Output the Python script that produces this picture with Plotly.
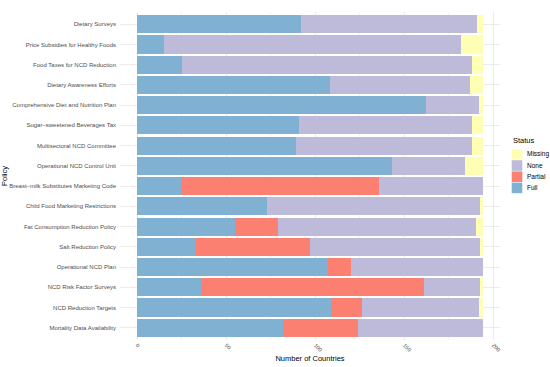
import plotly.graph_objects as go

policies = [
    "Dietary Surveys",
    "Price Subsidies for Healthy Foods",
    "Food Taxes for NCD Reduction",
    "Dietary Awareness Efforts",
    "Comprehensive Diet and Nutrition Plan",
    "Sugar\u2013sweetened Beverages Tax",
    "Multisectoral NCD Committee",
    "Operational NCD Control Unit",
    "Breast\u2013milk Substitutes Marketing Code",
    "Child Food Marketing Restrictions",
    "Fat Consumption Reduction Policy",
    "Salt Reduction Policy",
    "Operational NCD Plan",
    "NCD Risk Factor Surveys",
    "NCD Reduction Targets",
    "Mortality Data Availability",
]
full =    [92, 15, 25, 108, 162, 91, 89, 143, 25, 73, 55, 33, 107, 36, 109, 82]
partial = [0, 0, 0, 0, 0, 0, 0, 0, 111, 0, 24, 64, 13, 125, 17, 42]
none =    [99, 167, 163, 79, 30, 97, 99, 41, 58, 120, 111, 96, 74, 32, 66, 70]
missing = [3, 12, 6, 7, 2, 6, 6, 10, 0, 1, 4, 1, 0, 1, 2, 0]

x_ticks = [0, 50, 100, 150, 200]

series = [
    ("Full", full, "#80B1D3"),
    ("Partial", partial, "#FB8072"),
    ("None", none, "#BEBADA"),
    ("Missing", missing, "#FFFFB3"),
]

W, H = 550, 367
ML, MR, MT, MB = 120, 50, 12, 27
PW, PH = W - ML - MR, H - MT - MB

def px_x(px):
    return (px - ML) / PW

def px_y(py):
    return (H - MB - py) / PH

fig = go.Figure()
for name, vals, color in series:
    fig.add_trace(go.Bar(
        y=policies, x=vals, name=name, orientation="h",
        marker=dict(color=color, line=dict(width=0)),
        showlegend=False,
    ))

# manual ggplot-style legend (Missing on top, Full at bottom)
font_family = "Liberation Sans, Arial, sans-serif"
shapes, annotations = [], []
key_left, key_right = 511.7, 522.3
key_top0, key_h, key_step = 149.0, 10.6, 11.2
for i, (name, _, color) in enumerate(series[::-1]):
    top = key_top0 + i * key_step
    shapes.append(dict(
        type="rect", xref="paper", yref="paper",
        x0=px_x(key_left), x1=px_x(key_right),
        y0=px_y(top + key_h), y1=px_y(top),
        fillcolor=color, line=dict(width=0), layer="above",
    ))
    annotations.append(dict(
        text=name, xref="paper", yref="paper",
        x=px_x(525), y=px_y(top + key_h / 2),
        xanchor="left", yanchor="middle", showarrow=False,
        font=dict(size=6.5, color="#000000", family=font_family),
    ))
annotations.append(dict(
    text="Status", xref="paper", yref="paper",
    x=px_x(510.5), y=px_y(140.7),
    xanchor="left", yanchor="middle", showarrow=False,
    font=dict(size=7.5, color="#000000", family=font_family),
))

fig.update_layout(
    barmode="stack",
    bargap=0.1,
    width=W, height=H,
    margin=dict(l=ML, r=MR, t=MT, b=MB, autoexpand=False),
    plot_bgcolor="white", paper_bgcolor="white",
    font=dict(family=font_family, size=6, color="#4D4D4D"),
    showlegend=False,
    shapes=shapes,
    annotations=annotations,
    xaxis=dict(
        range=[-9.7, 203.7],
        tickvals=x_ticks,
        tickangle=45,
        showgrid=True, gridcolor="#EBEBEB", gridwidth=1,
        minor=dict(showgrid=True, dtick=25, tick0=25, gridcolor="#F3F3F3", gridwidth=0.6),
        zeroline=False, showline=False, ticks="",
        tickfont=dict(size=5.5, color="#4D4D4D"),
        title=dict(text="Number of Countries", font=dict(size=7.5, color="#000000"), standoff=3),
        automargin=False,
    ),
    yaxis=dict(
        categoryorder="array", categoryarray=policies[::-1],
        range=[-0.6, 15.6],
        showgrid=True, gridcolor="#EBEBEB", gridwidth=1,
        zeroline=False, showline=False, ticks="",
        ticklabelstandoff=3,
        tickfont=dict(size=6, color="#4D4D4D"),
        title=dict(text="Policy", font=dict(size=7.5, color="#000000"), standoff=102),
        automargin=False,
    ),
)

fig.write_html(
    "out.html",
    config={"displayModeBar": False},
    post_script="document.body.style.margin='0';document.body.style.overflow='hidden';",
)
